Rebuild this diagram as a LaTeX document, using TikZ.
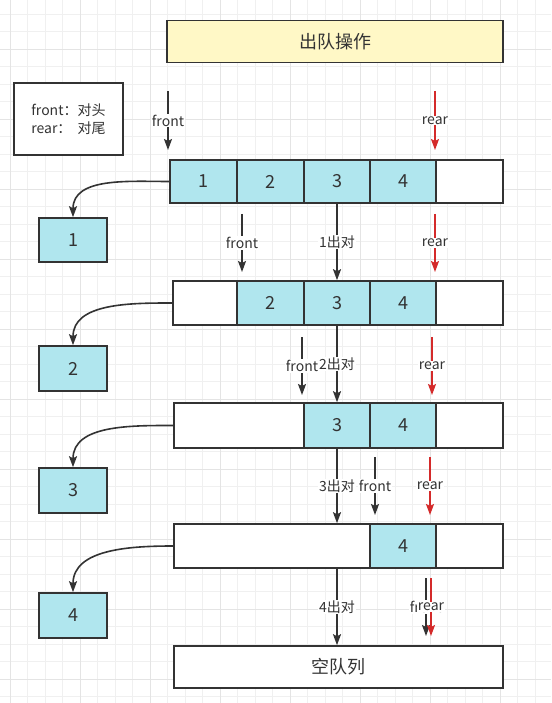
\documentclass[tikz,border=0pt]{standalone}
\usepackage{fontspec}
\setmainfont{Noto Sans CJK SC}
\usetikzlibrary{arrows.meta}
\definecolor{cellc}{HTML}{B0E6EE}
\definecolor{edge}{HTML}{333333}
\definecolor{titlec}{HTML}{FFF8C6}
\definecolor{redc}{HTML}{D42A2A}
\definecolor{gridminor}{HTML}{F0F0F0}
\definecolor{gridmajor}{HTML}{E4E4E4}
\begin{document}
\begin{tikzpicture}[x=1pt,y=-1pt,
  cell/.style={draw=edge,line width=1.6pt,inner sep=0pt,minimum height=44pt,
    font=\fontsize{18}{20}\selectfont,text=edge},
  full/.style={cell,fill=cellc},
  blank/.style={cell,fill=white},
  arr/.style={draw=edge,line width=1.6pt,-{Stealth[length=11pt,width=8pt,inset=2pt]}},
  rarr/.style={arr,draw=redc,color=redc},
  lbl/.style={fill=white,inner sep=1pt,text=edge,font=\fontsize{14}{16}\selectfont},
]
\useasboundingbox (0,0) rectangle (551,703);
\fill[white] (0,0) rectangle (551,703);
% grid
\foreach \i in {0,...,31} {\draw[gridminor,line width=0.8pt] ({10+17.5*\i},0) -- ({10+17.5*\i},703);}
\foreach \i in {0,...,39} {\draw[gridminor,line width=0.8pt] (0,{14+17.5*\i}) -- (551,{14+17.5*\i});}
\foreach \i in {0,...,7} {\draw[gridmajor,line width=0.8pt] ({10+70*\i},0) -- ({10+70*\i},703);}
\foreach \i in {-1,...,9} {\draw[gridmajor,line width=0.8pt] (0,{49+70*\i}) -- (551,{49+70*\i});}

% title and legend
\node[cell,fill=titlec,minimum width=336pt,minimum height=42pt] (title) at (335,41.5) {出队操作};
\node[cell,fill=white,minimum width=109pt,minimum height=72pt,align=center,
  font=\fontsize{14}{18}\selectfont] (legend) at (68.5,119) {front：对头\\rear：\ \ 对尾};

% row 1
\node[full,minimum width=67pt,minimum height=43pt] (r1a) at (203.5,181.5) {1};
\node[full,minimum width=67pt,minimum height=43pt] (r1b) at (270.5,181.5) {2};
\node[full,minimum width=66pt,minimum height=43pt] (r1c) at (337,181.5) {3};
\node[full,minimum width=66pt,minimum height=43pt] (r1d) at (403,181.5) {4};
\node[blank,minimum width=67pt,minimum height=43pt] (r1e) at (469.5,181.5) {};
% row 2
\node[blank,minimum width=64pt] (r2a) at (205,303) {};
\node[full,minimum width=67pt] (r2b) at (270.5,303) {2};
\node[full,minimum width=66pt] (r2c) at (337,303) {3};
\node[full,minimum width=66pt] (r2d) at (403,303) {4};
\node[blank,minimum width=67pt] (r2e) at (469.5,303) {};
% row 3
\node[blank,minimum width=130pt,minimum height=45pt] (r3a) at (239,425.5) {};
\node[full,minimum width=66pt,minimum height=45pt] (r3b) at (337,425.5) {3};
\node[full,minimum width=66pt,minimum height=45pt] (r3c) at (403,425.5) {4};
\node[blank,minimum width=67pt,minimum height=45pt] (r3d) at (469.5,425.5) {};
% row 4
\node[blank,minimum width=196pt] (r4a) at (272,546) {};
\node[full,minimum width=66pt] (r4b) at (403,546) {4};
\node[blank,minimum width=67pt] (r4c) at (469.5,546) {};
% empty queue
\node[blank,minimum width=329pt,minimum height=42pt] (empty) at (338.5,667) {空队列};

% dequeued boxes
\node[full,minimum width=68pt] (b1) at (73,240) {1};
\node[full,minimum width=68pt,minimum height=45pt] (b2) at (73,368.5) {2};
\node[full,minimum width=68pt,minimum height=45pt] (b3) at (73,490.5) {3};
\node[full,minimum width=68pt,minimum height=45pt] (b4) at (73,615.5) {4};

\draw[arr] (r1a.west) to[out=180,in=90] (b1.north);
\draw[arr] (r2a.west) to[out=180,in=90] (b2.north);
\draw[arr] (r3a.west) to[out=180,in=90] (b3.north);
\draw[arr] (r4a.west) to[out=180,in=90] (b4.north);

% dequeue arrows
\draw[arr] (r1c.south) -- (r2c.north) node[midway,lbl] {1出对};
\draw[arr] (r2c.south) -- (r3b.north) node[midway,lbl] {2出对};
\draw[arr] (r3b.south) -- (r3b.south |- r4a.north) node[midway,lbl] {3出对};
\draw[arr] (r3b.south |- r4a.south) -- (r3b.south |- empty.north) node[midway,lbl] {4出对};

% front / rear pointers
\coordinate (f0s) at (168,91);  \coordinate (f0e) at (168,150);
\coordinate (q0s) at (435,91);  \coordinate (q0e) at (435,150);
\coordinate (f1s) at (242,214); \coordinate (f1e) at (242,272);
\coordinate (q1s) at (435,214); \coordinate (q1e) at (435,272);
\coordinate (f2s) at (302,337); \coordinate (f2e) at (302,395);
\coordinate (q2s) at (432,337); \coordinate (q2e) at (432,395);
\coordinate (f3s) at (375,457); \coordinate (f3e) at (375,515);
\coordinate (q3s) at (430,457); \coordinate (q3e) at (430,515);
\coordinate (f4s) at (426,578); \coordinate (f4e) at (426,636);
\coordinate (q4s) at (431,578); \coordinate (q4e) at (431,636);

\draw[arr] (f0s) -- (f0e) node[midway,lbl] {front};
\draw[rarr] (q0s) -- (q0e) node[midway,lbl] {rear};
\draw[arr] (f1s) -- (f1e) node[midway,lbl] {front};
\draw[rarr] (q1s) -- (q1e) node[midway,lbl] {rear};
\draw[arr] (f2s) -- (f2e) node[midway,lbl] {front};
\draw[rarr] (q2s) -- (q2e) node[midway,lbl] {rear};
\draw[arr] (f3s) -- (f3e) node[midway,lbl] {front};
\draw[rarr] (q3s) -- (q3e) node[midway,lbl] {rear};
\draw[arr] (f4s) -- (f4e) node[midway,lbl] {front};
\draw[rarr] (q4s) -- (q4e) node[midway,lbl] {rear};
\end{tikzpicture}
\end{document}
